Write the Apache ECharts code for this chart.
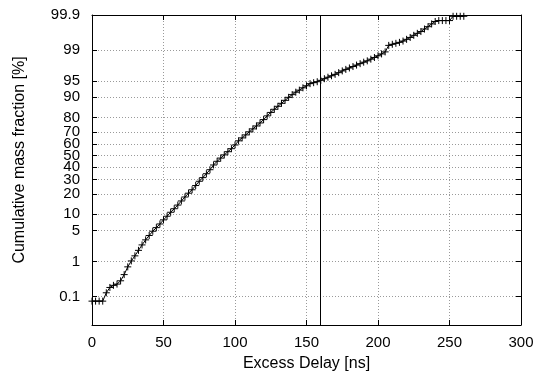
<!DOCTYPE html>
<html>
<head>
<meta charset="utf-8">
<script src="https://cdn.jsdelivr.net/npm/echarts@6/dist/echarts.min.js"></script>
<style>html,body{margin:0;padding:0;background:#fff}#c{width:538px;height:384px}</style>
</head>
<body>
<div id="c"></div>
<script>
// Excess delay [ns]
const delays = [0,2.5,5,7.5,10,12.5,15,17.5,20,22.5,25,27.5,30,32.5,35,37.5,40,42.5,45,47.5,
  50,52.5,55,57.5,60,62.5,65,67.5,70,72.5,75,77.5,80,82.5,85,87.5,90,92.5,95,97.5,
  100,102.5,105,107.5,110,112.5,115,117.5,120,122.5,125,127.5,130,132.5,135,137.5,140,142.5,145,147.5,
  150,152.5,155,157.5,160,162.5,165,167.5,170,172.5,175,177.5,180,182.5,185,187.5,190,192.5,195,197.5,
  200,202.5,205,207.5,210,212.5,215,217.5,220,222.5,225,227.5,230,232.5,235,237.5,240,242.5,245,247.5,
  250,252.5,255,257.5,260];
// Cumulative mass fraction [%]
const massFraction = [0.07,0.07,0.07,0.07,0.13,0.19,0.22,0.24,0.30,0.45,0.73,1.04,1.39,1.88,2.50,3.22,3.98,4.85,5.7,6.68,
  7.93,9.18,10.7,12.2,13.9,16.0,18.2,20.5,22.7,25.6,28.7,31.5,34.6,37.9,41.9,45.1,47.9,50.7,53.5,56.1,
  59.3,62.8,65.2,67.6,70.0,72.2,74.3,76.4,78.6,80.9,82.9,84.6,86.1,87.5,88.8,90.0,91.0,91.85,92.5,93.2,
  93.77,94.32,94.56,94.79,95.11,95.46,95.76,96.04,96.30,96.59,96.87,97.10,97.30,97.49,97.67,97.84,98.00,98.14,98.30,98.45,
  98.59,98.73,98.87,99.23,99.28,99.32,99.36,99.41,99.47,99.53,99.59,99.64,99.68,99.73,99.77,99.81,99.84,99.85,99.85,99.85,
  99.85,99.89,99.89,99.89,99.89];
const yTickLabels = ['0.1','1','5','10','20','30','40','50','60','70','80','90','95','99','99.9'];
const yRangePercent = [0.01, 99.9];
const xTicks = {min: 0, max: 300, interval: 50};
const delay95 = 159.3;

function probit(p){
  const a=[-3.969683028665376e+01,2.209460984245205e+02,-2.759285104469687e+02,1.383577518672690e+02,-3.066479806614716e+01,2.506628277459239e+00];
  const b=[-5.447609879822406e+01,1.615858368580409e+02,-1.556989798598866e+02,6.680131188771972e+01,-1.328068155288572e+01];
  const c=[-7.784894002430293e-03,-3.223964580411365e-01,-2.400758277161838e+00,-2.549732539343734e+00,4.374664141464968e+00,2.938163982698783e+00];
  const d=[7.784695709041462e-03,3.224671290700398e-01,2.445134137142996e+00,3.754408661907416e+00];
  const pl=0.02425, ph=1-pl; let q,r;
  if(p<pl){q=Math.sqrt(-2*Math.log(p));return (((((c[0]*q+c[1])*q+c[2])*q+c[3])*q+c[4])*q+c[5])/((((d[0]*q+d[1])*q+d[2])*q+d[3])*q+1);}
  if(p<=ph){q=p-0.5;r=q*q;return (((((a[0]*r+a[1])*r+a[2])*r+a[3])*r+a[4])*r+a[5])*q/(((((b[0]*r+b[1])*r+b[2])*r+b[3])*r+b[4])*r+1);}
  q=Math.sqrt(-2*Math.log(1-p));return -(((((c[0]*q+c[1])*q+c[2])*q+c[3])*q+c[4])*q+c[5])/((((d[0]*q+d[1])*q+d[2])*q+d[3])*q+1);
}
const P = v => probit(v/100);
const yTickVals = yTickLabels.map(s => P(parseFloat(s)));
const yMin = P(yRangePercent[0]), yMax = P(yRangePercent[1]);
function labelFor(v){
  let best=0, bd=Infinity;
  yTickVals.forEach((t,i)=>{const dd=Math.abs(t-v); if(dd<bd){bd=dd;best=i;}});
  return yTickLabels[best];
}
const data = delays.map((x,i)=>[x, P(massFraction[i])]);
const FONT = 'Liberation Sans';
const grid = {left:92, right:17, top:15, bottom:59};
const gridStyle = {color:'#9a9a9a', width:1, type:[1,2]};

const chart = echarts.init(document.getElementById('c'), null, {renderer:'canvas'});
chart.setOption({
  animation:false,
  backgroundColor:'#fff',
  grid: grid,
  xAxis: [{
    type:'value', min:xTicks.min, max:xTicks.max, interval:xTicks.interval, position:'bottom',
    name:'Excess Delay [ns]', nameLocation:'middle', nameGap:31,
    nameTextStyle:{fontFamily:FONT, fontSize:16, color:'#000'},
    axisLine:{show:true, onZero:false, lineStyle:{color:'#000', width:1}},
    axisTick:{show:true, inside:true, length:5, lineStyle:{color:'#000'}},
    axisLabel:{fontFamily:FONT, fontSize:15, color:'#000', margin:10},
    splitLine:{show:true, lineStyle:gridStyle}
  },{
    type:'value', min:xTicks.min, max:xTicks.max, interval:xTicks.interval, position:'top',
    axisLine:{show:true, onZero:false, lineStyle:{color:'#000', width:1}},
    axisTick:{show:true, inside:true, length:5, lineStyle:{color:'#000'}},
    axisLabel:{show:false}, splitLine:{show:false}
  }],
  yAxis: [{
    type:'value', min:yMin, max:yMax, position:'left',
    axisLine:{show:true, onZero:false, lineStyle:{color:'#000', width:1}},
    axisTick:{show:true, inside:true, length:5, customValues:yTickVals, lineStyle:{color:'#000'}},
    axisLabel:{customValues:yTickVals, formatter:labelFor, fontFamily:FONT, fontSize:15, color:'#000', margin:12},
    splitLine:{show:true, lineStyle:gridStyle}
  },{
    type:'value', min:yMin, max:yMax, position:'right',
    axisLine:{show:true, onZero:false, lineStyle:{color:'#000', width:1}},
    axisTick:{show:true, inside:true, length:5, customValues:yTickVals, lineStyle:{color:'#000'}},
    axisLabel:{show:false}, splitLine:{show:false}
  }],
  graphic:[{
    type:'text', x:20, y:160, rotation:Math.PI/2,
    style:{text:'Cumulative mass fraction [%]', font:'16px "Liberation Sans"', fill:'#000', align:'center', verticalAlign:'middle'}
  }],
  series:[{
    type:'line', xAxisIndex:0, yAxisIndex:0, data:data,
    symbol:'path://M0,5L10,5M5,0L5,10', symbolSize:7, showAllSymbol:true,
    lineStyle:{color:'#000', width:1},
    itemStyle:{color:'#000', borderColor:'#000', borderWidth:1},
    markLine:{silent:true, symbol:'none', label:{show:false},
      lineStyle:{color:'#000', type:'solid', width:1},
      data:[{xAxis:delay95}]}
  }]
});
</script>
</body>
</html>
